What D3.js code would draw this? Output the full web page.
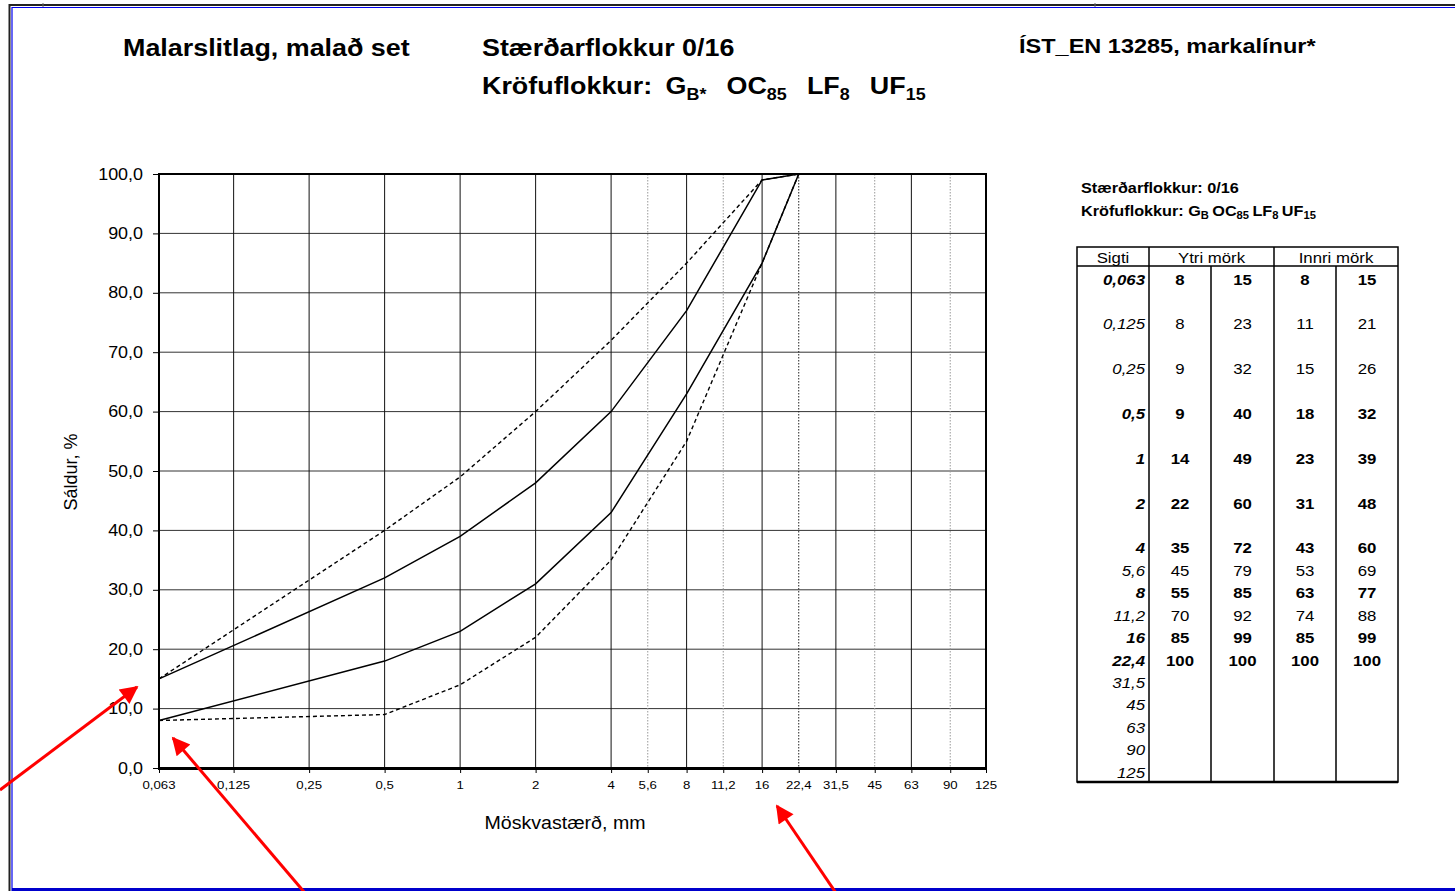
<!DOCTYPE html>
<html>
<head>
<meta charset="utf-8">
<script src="https://cdn.jsdelivr.net/npm/d3@7"></script>
<style>
  html, body { margin: 0; padding: 0; background: #fff; }
  svg { display: block; font-family: "Liberation Sans", Arial, sans-serif; }
</style>
</head>
<body>
<svg id="chart" width="1455" height="891"></svg>
<script>
// ---------------- DATA ----------------
const sieveLabels = ["0,063","0,125","0,25","0,5","1","2","4","5,6","8","11,2","16","22,4","31,5","45","63","90","125"];
const sieveValues = [0.063,0.125,0.25,0.5,1,2,4,5.6,8,11.2,16,22.4,31.5,45,63,90,125];
const boldRow     = [true,false,false,true,true,true,true,false,true,false,true,true,false,false,false,false,false];
const ytriLow   = [8,8,9,9,14,22,35,45,55,70,85,100];
const ytriHigh  = [15,23,32,40,49,60,72,79,85,92,99,100];
const innriLow  = [8,11,15,18,23,31,43,53,63,74,85,100];
const innriHigh = [15,21,26,32,39,48,60,69,77,88,99,100];
const minorSieves = [5.6,11.2,22.4,45,90];
const yTicks = [0,10,20,30,40,50,60,70,80,90,100];
const classParts = [["G","B*"],["OC","85"],["LF","8"],["UF","15"]];
const classPartsTable = [["G","B"],["OC","85"],["LF","8"],["UF","15"]];

// ---------------- LAYOUT ----------------
const K = 1.12; // horizontal stretch of text in the reference
const svg = d3.select("#chart");
const plot = {left:159, right:986, top:174, bottom:768};
const x = d3.scaleLog().domain([0.063,125]).range([plot.left, plot.right]);
const y = d3.scaleLinear().domain([0,100]).range([plot.bottom, plot.top]);

function txt(g, px, py, str, o = {}) {
  const t = g.append("text")
    .attr("transform", `translate(${px},${py}) scale(${o.k ?? K},1)`)
    .attr("font-size", o.size || 15)
    .attr("font-weight", o.weight || "normal")
    .attr("font-style", o.style || "normal")
    .attr("text-anchor", o.anchor || "start")
    .attr("fill", "#000");
  if (str !== null) t.text(str);
  return t;
}
function classLine(t, label, parts, mainSize, subSize, firstGap, gap, off) {
  t.append("tspan").attr("font-size", mainSize).text(label);
  parts.forEach(([m, s], i) => {
    t.append("tspan").attr("font-size", mainSize)
      .attr("dx", i === 0 ? firstGap : gap).attr("dy", i === 0 ? 0 : -off).text(m);
    t.append("tspan").attr("font-size", subSize).attr("dy", off).text(s);
  });
}

// ---------------- PAGE BORDER ----------------
svg.append("line").attr("x1",9).attr("x2",1455).attr("y1",5).attr("y2",5).attr("stroke","#222").attr("stroke-width",2);
svg.append("line").attr("x1",12).attr("x2",1455).attr("y1",7.5).attr("y2",7.5).attr("stroke","#0000ee").attr("stroke-width",1);
svg.append("line").attr("x1",9.5).attr("x2",9.5).attr("y1",4).attr("y2",891).attr("stroke","#222").attr("stroke-width",2);
svg.append("line").attr("x1",12).attr("x2",12).attr("y1",7).attr("y2",891).attr("stroke","#0000ee").attr("stroke-width",1.2);
svg.append("line").attr("x1",12).attr("x2",1455).attr("y1",889.5).attr("y2",889.5).attr("stroke","#0000cc").attr("stroke-width",3);
svg.append("line").attr("x1",43).attr("x2",43).attr("y1",3).attr("y2",7).attr("stroke","#666").attr("stroke-width",1);
svg.append("line").attr("x1",1095).attr("x2",1095).attr("y1",3).attr("y2",7).attr("stroke","#666").attr("stroke-width",1);

// ---------------- TITLES ----------------
const T = svg.append("g");
txt(T, 123, 56, "Malarslitlag, malað set", {size:24, weight:"bold"});
txt(T, 482, 56, "Stærðarflokkur 0/16", {size:24, weight:"bold"});
txt(T, 1019, 53, "ÍST_EN 13285, markalínur*", {size:21, weight:"bold"});
classLine(txt(T, 482, 94, null, {size:24, weight:"bold"}), "Kröfuflokkur:", classParts, 24, 16, 12, 18, 6);

// ---------------- GRID ----------------
const G = svg.append("g");
yTicks.filter(v => v > 0 && v < 100).forEach(v => {
  G.append("line").attr("x1",plot.left).attr("x2",plot.right).attr("y1",y(v)).attr("y2",y(v))
    .attr("stroke","#333").attr("stroke-width",1);
});
sieveValues.filter(v => v > 0.063 && v < 125).forEach(v => {
  const minor = minorSieves.includes(v);
  G.append("line").attr("x1",x(v)).attr("x2",x(v)).attr("y1",plot.top).attr("y2",plot.bottom)
    .attr("stroke", minor ? (v === 22.4 ? "#222" : "#999") : "#111")
    .attr("stroke-width",1)
    .attr("stroke-dasharray", minor ? "1.5,1.5" : null);
});

// ---------------- AXES ----------------
const fmtY = d => d3.format(".1f")(d).replace(".", ",");
const yAxis = d3.axisLeft(y).tickValues(yTicks).tickSize(6).tickFormat(fmtY);
const ya = svg.append("g").attr("transform",`translate(${plot.left},0)`).call(yAxis);
ya.select(".domain").remove();
ya.selectAll(".tick line").attr("stroke","#000");
ya.selectAll(".tick text").remove();
yTicks.forEach(v => txt(svg, 143, y(v) + 5.5, fmtY(v), {size:16, anchor:"end"}));

const xAxis = d3.axisBottom(x).tickValues(sieveValues).tickSize(5).tickFormat((d,i) => sieveLabels[i]);
const xa = svg.append("g").attr("transform",`translate(0,${plot.bottom})`).call(xAxis);
xa.select(".domain").remove();
xa.selectAll(".tick line").attr("stroke","#000");
xa.selectAll(".tick text").remove();
sieveValues.forEach((v,i) => txt(svg, x(v), 789, sieveLabels[i], {size:11.8, anchor:"middle"}));

// frame
svg.append("line").attr("x1",plot.left).attr("x2",plot.right).attr("y1",plot.top).attr("y2",plot.top).attr("stroke","#000").attr("stroke-width",2);
svg.append("line").attr("x1",plot.right).attr("x2",plot.right).attr("y1",plot.top-1).attr("y2",plot.bottom).attr("stroke","#000").attr("stroke-width",2);
svg.append("line").attr("x1",plot.left).attr("x2",plot.left).attr("y1",plot.top-1).attr("y2",plot.bottom).attr("stroke","#000").attr("stroke-width",2);
svg.append("line").attr("x1",plot.left-1).attr("x2",plot.right+1).attr("y1",plot.bottom+0.5).attr("y2",plot.bottom+0.5).attr("stroke","#000").attr("stroke-width",3);

// axis titles
txt(svg, 565, 829, "Möskvastærð, mm", {size:17.5, anchor:"middle"});
svg.append("text").attr("transform","translate(77,472) rotate(-90)")
  .attr("font-size",18).attr("text-anchor","middle").text("Sáldur, %");

// ---------------- SERIES ----------------
const line = d3.line().x(d => x(d[0])).y(d => y(d[1]));
function pts(arr) { return arr.map((v,i) => [sieveValues[i], v]).filter((d,i) => boldRow[i]); }
const S = svg.append("g").attr("fill","none").attr("stroke","#000");
[[ytriLow,true],[ytriHigh,true],[innriLow,false],[innriHigh,false]].forEach(([arr,dashed]) => {
  S.append("path").attr("d", line(pts(arr)))
    .attr("stroke-width", dashed ? 1.4 : 1.5)
    .attr("stroke-dasharray", dashed ? "4,3" : null);
});

// ---------------- RIGHT TABLE ----------------
const R = svg.append("g");
txt(R, 1081, 193, "Stærðarflokkur: 0/16", {size:14.5, weight:"bold"});
classLine(txt(R, 1081, 216, null, {size:14.5, weight:"bold"}), "Kröfuflokkur:", classPartsTable, 14.5, 10, 4, 3, 3);
const tb = {left:1077, right:1398, top:247, head:266, bottom:782};
const colX = [1077,1149,1211,1274,1336,1398];
R.append("rect").attr("x",tb.left).attr("y",tb.top).attr("width",tb.right-tb.left).attr("height",tb.bottom-tb.top)
  .attr("fill","none").attr("stroke","#000").attr("stroke-width",1.5);
R.append("line").attr("x1",tb.left).attr("x2",tb.right).attr("y1",tb.head).attr("y2",tb.head).attr("stroke","#000").attr("stroke-width",1.5);
R.append("line").attr("x1",tb.left).attr("x2",tb.right).attr("y1",tb.bottom).attr("y2",tb.bottom).attr("stroke","#000").attr("stroke-width",2.5);
[1,3].forEach(c => R.append("line").attr("x1",colX[c]).attr("x2",colX[c]).attr("y1",tb.top).attr("y2",tb.bottom).attr("stroke","#000").attr("stroke-width",1.5));
[2,4].forEach(c => R.append("line").attr("x1",colX[c]).attr("x2",colX[c]).attr("y1",tb.head).attr("y2",tb.bottom).attr("stroke","#000").attr("stroke-width",1.5));
txt(R, (colX[0]+colX[1])/2, 263, "Sigti", {size:15, anchor:"middle"});
txt(R, (colX[1]+colX[3])/2, 263, "Ytri mörk", {size:15, anchor:"middle"});
txt(R, (colX[3]+colX[5])/2, 263, "Innri mörk", {size:15, anchor:"middle"});
const rowY = i => 279 + (i <= 6 ? i * 44.8 : 6 * 44.8 + (i - 6) * 22.45);
const cols = [ytriLow, ytriHigh, innriLow, innriHigh];
sieveLabels.forEach((lab, i) => {
  const b = boldRow[i] ? "bold" : "normal";
  txt(R, 1145, rowY(i) + 5.5, lab, {size:15, weight:b, style:"italic", anchor:"end"});
  cols.forEach((arr, c) => {
    if (arr[i] !== undefined)
      txt(R, (colX[c+1]+colX[c+2])/2, rowY(i) + 5.5, String(arr[i]), {size:15, weight:b, anchor:"middle"});
  });
});

// ---------------- RED ARROWS (annotations) ----------------
const defs = svg.append("defs");
defs.append("marker").attr("id","ah").attr("viewBox","0 0 10 10").attr("refX",9).attr("refY",5)
  .attr("markerWidth",7).attr("markerHeight",6).attr("orient","auto")
  .append("path").attr("d","M0,0 L10,5 L0,10 Z").attr("fill","#ff0000");
const arrows = [[[0,790],[137,687]],[[305,893],[173,738]],[[836,893],[777,806]]];
arrows.forEach(([a,b]) => {
  svg.append("line").attr("x1",a[0]).attr("y1",a[1]).attr("x2",b[0]).attr("y2",b[1])
    .attr("stroke","#ff0000").attr("stroke-width",3).attr("marker-end","url(#ah)");
});
</script>
</body>
</html>
